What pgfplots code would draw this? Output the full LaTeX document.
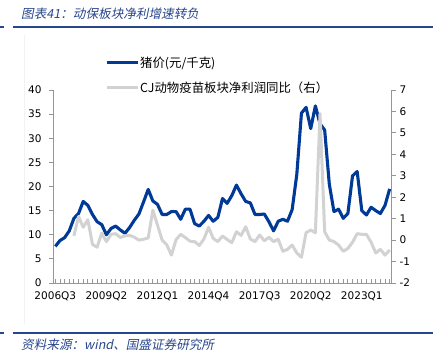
\documentclass[border=0pt]{standalone}
\usepackage{pgfplots}
\pgfplotsset{compat=1.18}
\usepackage{fontspec}
\setmainfont{DejaVu Sans}
\newfontfamily\cjk{Noto Sans CJK SC}
\newfontfamily\cjkit[FakeSlant=0.2]{Noto Sans CJK SC}
\definecolor{pig}{RGB}{0,58,150}
\definecolor{cj}{RGB}{210,210,210}
\definecolor{axgray}{RGB}{150,150,150}
\definecolor{hdr}{RGB}{40,70,140}

\pgfplotstableread{
i v
0 7.6
1 8.8
2 9.4
3 10.8
4 13.4
5 14.4
6 16.9
7 16.1
8 14.2
9 12.7
10 12.1
11 10.0
12 11.3
13 11.8
14 11.0
15 10.3
16 11.5
17 13.0
18 14.3
19 16.8
20 19.4
21 17.0
22 16.3
23 14.2
24 14.2
25 14.8
26 14.8
27 13.2
28 15.3
29 15.3
30 12.3
31 11.8
32 12.8
33 14.0
34 12.8
35 13.6
36 17.5
37 16.5
38 18.1
39 20.3
40 18.5
41 16.9
42 16.6
43 14.2
44 14.2
45 14.3
46 12.7
47 10.8
48 12.8
49 13.2
50 12.8
51 15.2
52 22.5
53 35.2
54 36.4
55 32.0
56 36.7
57 33.0
58 31.7
59 20.5
60 14.8
61 15.3
62 13.4
63 14.4
64 22.2
65 23.1
66 15.0
67 14.1
68 15.7
69 15.0
70 14.4
71 16.1
72 19.5
}\pigdata

\pgfplotstableread{
i v
4 0.20
5 1.10
6 0.60
7 0.95
8 -0.20
9 -0.33
10 0.33
11 -0.07
12 0.27
13 0.30
14 0.12
15 0.20
16 0.22
17 0.14
18 0.00
19 0.04
20 0.10
21 1.40
22 0.70
23 0.00
24 -0.22
25 -0.70
26 0.02
27 0.27
28 0.12
29 -0.05
30 -0.07
31 -0.25
32 0.05
33 0.60
34 0.08
35 -0.07
36 0.19
37 0.03
38 -0.12
39 0.39
40 0.22
41 0.62
42 0.05
43 -0.07
44 0.24
45 -0.03
46 0.13
47 -0.07
48 0.04
49 -0.52
50 -0.43
51 -0.23
52 -0.60
53 -0.80
54 0.35
55 0.47
56 0.34
57 5.90
58 0.39
59 0.00
60 -0.07
61 -0.23
62 -0.52
63 -0.39
64 -0.10
65 0.30
66 0.27
67 0.27
68 -0.10
69 -0.60
70 -0.43
71 -0.70
72 -0.46
}\cjdata

\begin{document}
\begin{tikzpicture}[x=1pt,y=1pt]
\path[use as bounding box] (0,0) rectangle (441,359);
% header / footer
\node[anchor=west, text=hdr, font=\cjkit\fontsize{12.6}{14}\selectfont, inner sep=0pt] at (21,345) {图表41：动保板块净利增速转负};
\draw[hdr, line width=1.2pt] (13,332) -- (433,332);
\draw[hdr, line width=1.2pt] (0,332) -- (4,332);
\draw[hdr, line width=1.2pt] (13,26) -- (433,26);
\draw[hdr, line width=1.2pt] (0,26) -- (4,26);
\node[anchor=west, text=hdr, font=\cjkit\fontsize{12.6}{14}\selectfont, inner sep=0pt] at (21,14) {资料来源：wind、国盛证券研究所};
\draw[black!5, line width=0.6pt] (24,35) -- (24,324);

\begin{axis}[
  at={(53pt,76pt)}, anchor=south west,
  scale only axis, width=339pt, height=193pt,
  xmin=-0.5, xmax=72.5,
  ymin=0, ymax=40,
  ytick={0,5,...,40},
  xtick={0,11,22,33,44,55,66},
  xticklabels={2006Q3,2009Q2,2012Q1,2014Q4,2017Q3,2020Q2,2023Q1},
  axis x line*=bottom, axis y line*=left,
  axis line style={axgray, line width=1pt},
  every outer x axis line/.append style={-}, every outer y axis line/.append style={-},
  tick align=inside,
  major tick length=4pt,
  xtick style={axgray, line width=0.9pt},
  ytick style={axgray, line width=0.9pt, xshift=-4pt},
  tick label style={font=\fontsize{10.5}{12}\selectfont, black},
  x tick label style={yshift=-5pt},
  y tick label style={xshift=-8pt},
  /pgf/number format/assume math mode=true,
  clip=false,
]
\pgfplotsinvokeforeach{0,...,72}{
  \draw[axgray, line width=0.9pt] (axis cs:#1,0) -- ([yshift=4pt]axis cs:#1,0);
}
\addplot[pig, line width=3.1pt, line join=round] table[x=i, y=v] {\pigdata};
\end{axis}

\begin{axis}[
  at={(53pt,76pt)}, anchor=south west,
  scale only axis, width=339pt, height=193pt,
  xmin=-0.5, xmax=72.5,
  ymin=-2, ymax=7,
  ytick={-2,...,7},
  axis x line=none, axis y line*=right,
  axis line style={axgray, line width=1pt},
  every outer y axis line/.append style={-},
  tick align=outside, major tick length=4pt,
  ytick style={axgray, line width=0.9pt},
  tick label style={font=\fontsize{10.5}{12}\selectfont, black},
  /pgf/number format/assume math mode=true,
  legend style={at={(0.153,1.179)}, anchor=north west, draw=none, fill=none,
    inner sep=0pt, row sep=11pt, font=\cjk\fontsize{12.4}{14}\selectfont,
    nodes={inner sep=1pt, anchor=west}},
  legend cell align=left,
  legend image code/.code={\draw[#1] (0pt,0pt) -- (31pt,0pt);},
]
\addlegendimage{pig, line width=3.1pt}
\addlegendentry{猪价(元/千克)}
\addplot[cj, line width=3pt, line join=round] table[x=i, y=v] {\cjdata};
\addlegendentry{CJ动物疫苗板块净利润同比（右）}
\end{axis}
\end{tikzpicture}
\end{document}
